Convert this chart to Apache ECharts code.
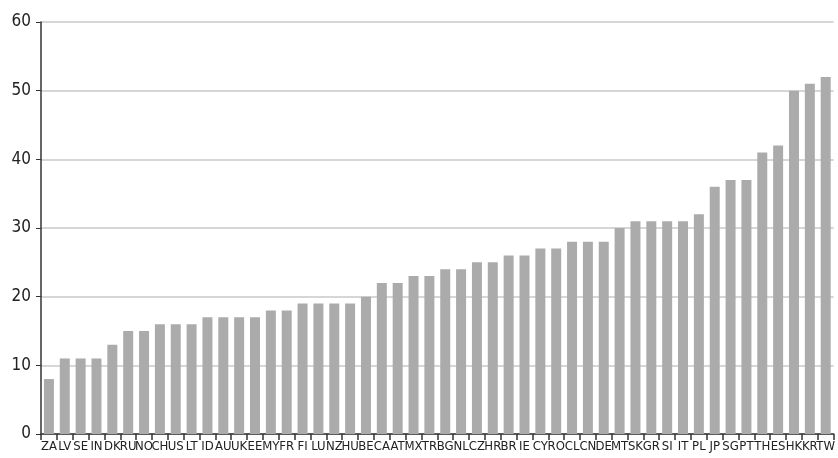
<!DOCTYPE html>
<html><head><meta charset="utf-8">
<script src="https://cdn.jsdelivr.net/npm/echarts@6/dist/echarts.min.js"></script>
<style>html,body{margin:0;padding:0;background:#fff}#c{width:838px;height:458px}</style>
</head><body><div id="c"></div>
<script>
const categories = ["ZA","LV","SE","IN","DK","RU","NO","CH","US","LT","ID","AU","UK","EE","MY","FR","FI","LU","NZ","HU","BE","CA","AT","MX","TR","BG","NL","CZ","HR","BR","IE","CY","RO","CL","CN","DE","MT","SK","GR","SI","IT","PL","JP","SG","PT","TH","ES","HK","KR","TW"];
const values = [8,11,11,11,13,15,15,16,16,16,17,17,17,17,18,18,19,19,19,19,20,22,22,23,23,24,24,25,25,26,26,27,27,28,28,28,30,31,31,31,31,32,36,37,37,41,42,50,51,52];
const yTicks = [0,10,20,30,40,50,60];

const chart = echarts.init(document.getElementById('c'), null, {renderer:'canvas'});
chart.setOption({
  animation:false,
  grid:{left:41,right:0,top:22,bottom:24,containLabel:false},
  xAxis:{
    type:'category', data:categories,
    axisLine:{lineStyle:{color:'#333',width:1.5}},
    axisTick:{show:true,length:6,lineStyle:{color:'#333',width:1.5}},
    axisLabel:{interval:0,color:'#222',fontFamily:'DejaVu Sans Condensed',fontSize:13,margin:6,letterSpacing:-1.3}
  },
  yAxis:{
    type:'value', min:yTicks[0], max:yTicks[yTicks.length-1], interval:10,
    axisLine:{show:true,lineStyle:{color:'#333',width:1.5}},
    axisTick:{show:true,length:5,lineStyle:{color:'#333'}},
    axisLabel:{color:'#222',fontFamily:'DejaVu Sans Condensed',fontSize:17,margin:10,letterSpacing:-1},
    splitLine:{lineStyle:{color:'#c8c8c8',width:1.5}}
  },
  series:[{type:'bar',data:values,barCategoryGap:'37%',itemStyle:{color:'#ababab'}}]
});
</script></body></html>
